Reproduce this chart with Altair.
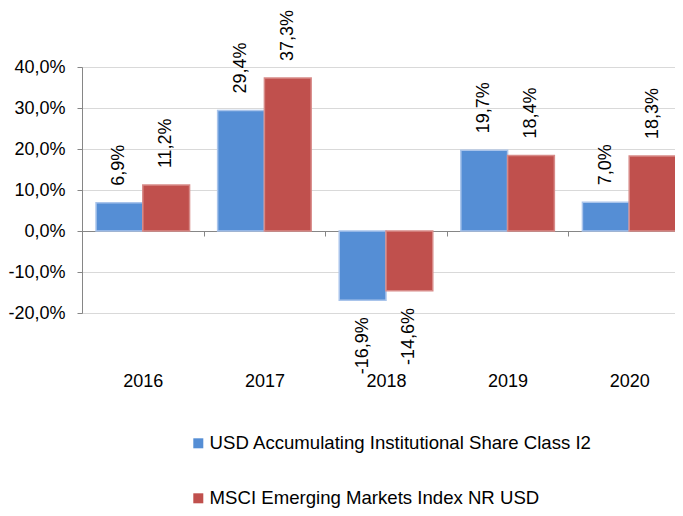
import altair as alt
import pandas as pd

years = ["2016", "2017", "2018", "2019", "2020"]
series_names = ["USD Accumulating Institutional Share Class I2", "MSCI Emerging Markets Index NR USD"]
fund_returns = [6.9, 29.4, -16.9, 19.7, 7.0]
index_returns = [11.2, 37.3, -14.6, 18.4, 18.3]
fill_colors = ["#558ED5", "#C0504D"]
edge_colors = ["#A9C4EB", "#D78A88"]
y_ticks = [-20, -10, 0, 10, 20, 30, 40]

rows = []
for i, yr in enumerate(years):
    rows.append({"year": yr, "series": series_names[0], "value": fund_returns[i]})
    rows.append({"year": yr, "series": series_names[1], "value": index_returns[i]})
df = pd.DataFrame(rows)
df["label"] = df["value"].map(lambda v: f"{v:.1f}".replace(".", ",") + "%")

FONT = "Liberation Sans"

x_enc = alt.X(
    "year:N", sort=years,
    scale=alt.Scale(paddingInner=0, paddingOuter=0),
    axis=alt.Axis(
        title=None, orient="bottom", offset=-82, domainColor="#868686", domainWidth=1,
        tickColor="#868686", tickSize=5, tickBand="extent", labelAngle=0,
        labelPadding=136, labelFontSize=18, labelFont=FONT, labelColor="#000000",
    ),
)
xoff_enc = alt.XOffset("series:N", scale=alt.Scale(domain=series_names, paddingInner=0, paddingOuter=0.3))
y_enc = alt.Y(
    "value:Q",
    scale=alt.Scale(domain=[-20, 40], nice=False, zero=False),
    axis=alt.Axis(
        title=None, values=y_ticks,
        labelExpr="(datum.value < 0 ? '-' : '') + replace(format(abs(datum.value), '.1f'), '.', ',') + '%'",
        grid=True, gridColor="#D9D9D9", gridWidth=1, domainColor="#868686",
        tickColor="#868686", tickSize=5, labelPadding=12, labelFontSize=18,
        labelFont=FONT, labelColor="#000000",
    ),
)

base = alt.Chart(df)

bars = base.mark_bar(strokeWidth=1.5).encode(
    x=x_enc,
    xOffset=xoff_enc,
    y=y_enc,
    color=alt.Color(
        "series:N",
        scale=alt.Scale(domain=series_names, range=fill_colors),
        legend=alt.Legend(
            title=None, orient="none", legendX=107, legendY=367, direction="vertical",
            symbolType="square", symbolSize=100, symbolStrokeWidth=0, labelOffset=2,
            labelFontSize=18.6, labelFont=FONT, labelColor="#000000",
            rowPadding=36, padding=0, labelLimit=600,
        ),
    ),
    stroke=alt.Stroke("series:N", scale=alt.Scale(domain=series_names, range=edge_colors), legend=None),
)

pos_labels = base.transform_filter("datum.value >= 0").mark_text(
    angle=270, align="left", baseline="middle", dx=17, fontSize=18, font=FONT, color="#000000"
).encode(x=x_enc, xOffset=xoff_enc, y=y_enc, text="label:N")

neg_labels = base.transform_filter("datum.value < 0").mark_text(
    angle=270, align="right", baseline="middle", dx=-17, fontSize=18, font=FONT, color="#000000"
).encode(x=x_enc, xOffset=xoff_enc, y=y_enc, text="label:N")

chart = alt.layer(bars, pos_labels, neg_labels).properties(
    width=608, height=246,
    autosize="none",
    padding={"left": 74, "top": 59, "right": -15, "bottom": 195},
).configure_view(stroke=None).configure(background="white")

chart.save("out.html", embed_options={"renderer": "svg", "actions": False})
